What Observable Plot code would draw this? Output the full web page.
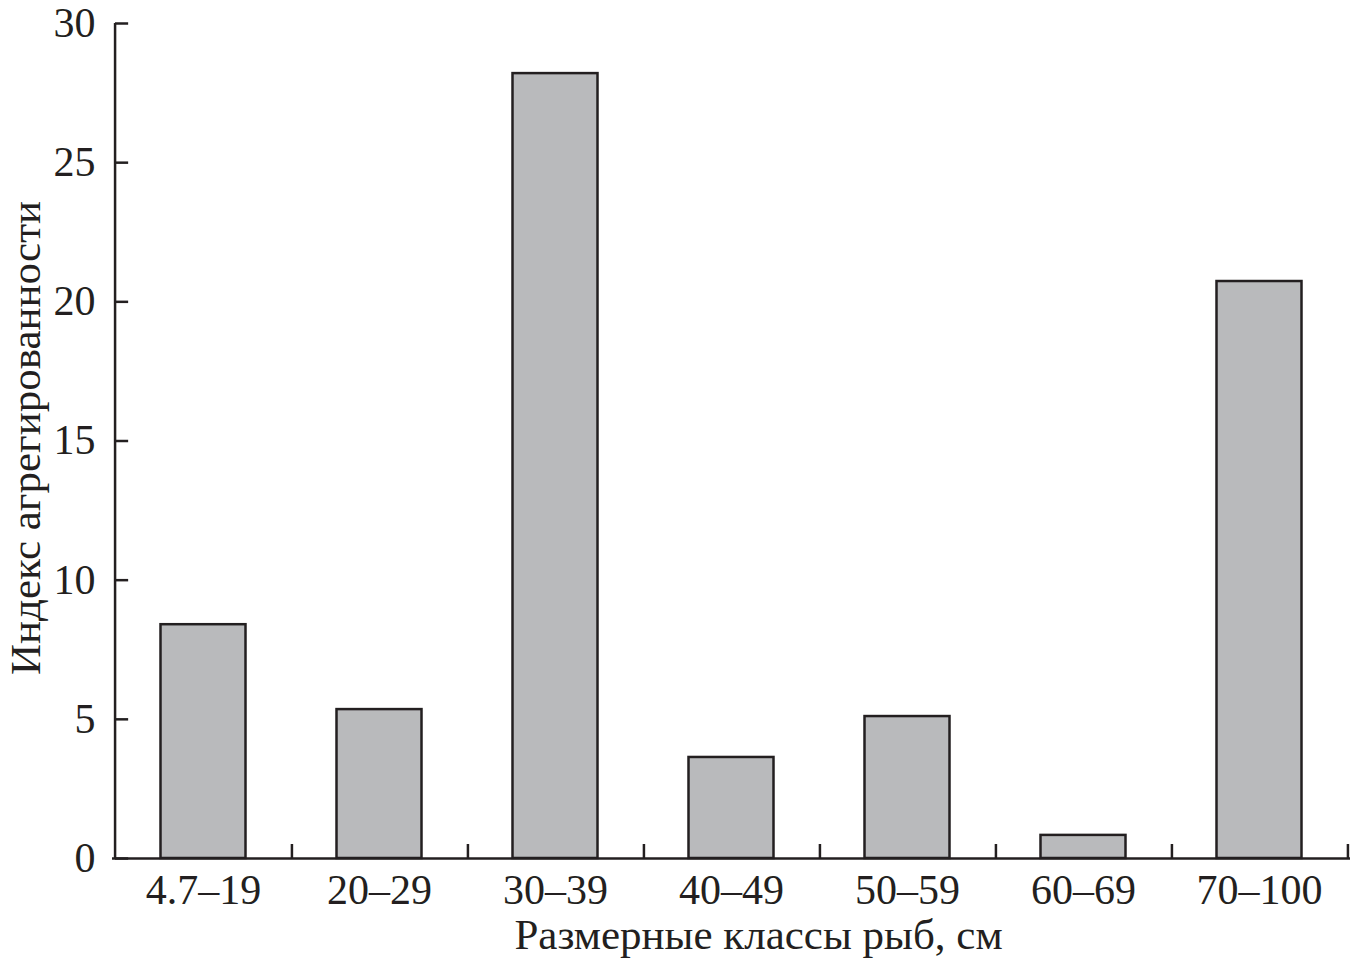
<!DOCTYPE html>
<html>
<head>
<meta charset="utf-8">
<script src="https://cdn.jsdelivr.net/npm/d3@7"></script>
<script src="https://cdn.jsdelivr.net/npm/@observablehq/plot@0.6"></script>
<style>
  html, body { margin: 0; padding: 0; background: #fff; }
</style>
</head>
<body>
<div id="chart"></div>
<script>
const categories = ["4.7–19", "20–29", "30–39", "40–49", "50–59", "60–69", "70–100"];
const values = [8.4, 5.35, 28.2, 3.63, 5.1, 0.83, 20.73];
const yTicks = [0, 5, 10, 15, 20, 25, 30];
const xTitle = "Размерные классы рыб, см";
const yTitle = "Индекс агрегированности";

const data = categories.map((c, i) => ({category: c, value: values[i]}));

const W = 1352, H = 962;
const mL = 112, mR = 2, mT = 23, mB = 104;
const step = (W - mL - mR) / categories.length;
const ink = "#231f20";

const chart = Plot.plot({
  width: W,
  height: H,
  marginLeft: mL,
  marginRight: mR,
  marginTop: mT,
  marginBottom: mB,
  style: {fontFamily: "'Liberation Serif', 'Times New Roman', serif", fontSize: "42px", color: ink, background: "#fff"},
  x: {type: "band", domain: categories, padding: 0, label: null},
  y: {domain: [0, 30], ticks: yTicks, label: null},
  marks: [
    Plot.barY(data, {x: "category", y: "value", fill: "#b9babc", stroke: ink, strokeWidth: 2.5, insetLeft: 45.5, insetRight: 45.5}),
    // y axis line
    Plot.ruleX([categories[0]], {dx: -step / 2, y1: 0, y2: 30, stroke: ink, strokeWidth: 2.5}),
    // x axis line
    Plot.ruleY([0], {stroke: ink, strokeWidth: 2.5}),
    // inward y ticks
    Plot.tickY(yTicks, {y: d => d, x: () => categories[0], stroke: ink, strokeWidth: 2.5, insetRight: step - 14}),
    // x ticks at category boundaries (pointing up)
    Plot.ruleX(categories, {dx: step / 2, y1: 0, y2: 14 / ((H - mT - mB) / 30), stroke: ink, strokeWidth: 2.5}),
    Plot.axisY({ticks: yTicks, tickSize: 0, tickPadding: 17, fontSize: 42, label: null}),
    Plot.axisX({tickSize: 0, tickPadding: 16, fontSize: 42, label: null}),
    Plot.text([xTitle], {text: d => d, frameAnchor: "bottom", lineAnchor: "bottom", dx: 27, dy: 90, fontSize: 43, fill: ink}),
    Plot.text([yTitle], {text: d => d, frameAnchor: "left", textAnchor: "middle", rotate: -90, dx: -86, dy: -3, fontSize: 43, fill: ink})
  ]
});
document.getElementById("chart").appendChild(chart);
</script>
</body>
</html>
